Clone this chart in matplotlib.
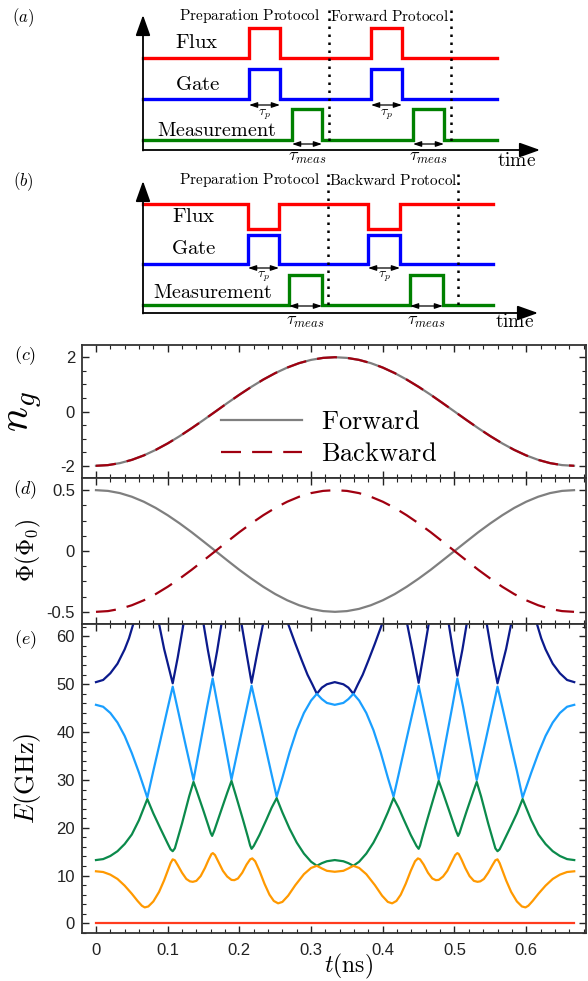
import matplotlib
matplotlib.use("Agg")
import matplotlib.pyplot as plt
from matplotlib.ticker import MultipleLocator

plt.rcParams['mathtext.fontset'] = 'cm'
plt.rcParams['font.family'] = ['Liberation Sans', 'DejaVu Sans']
plt.rcParams['axes.unicode_minus'] = False

# ---------------- schematic data (pixel units of the drawing) ----------------
# panel (a): forward protocol
a_flux = (58, 28)            # (baseline, pulse level)
a_gate = (99, 69)
a_meas = (140, 109)
a_gate_pulses = [(249, 280), (371, 402)]
a_meas_pulses = [(292, 322), (413, 444)]
a_span = (143, 497)
a_axis = (143, 150, 540, 15)   # origin x, origin y, x tip, y tip
a_dotted = [329, 451]

# panel (b): backward protocol
b_flux = (204, 229)
b_gate = (264, 235)
b_meas = (305, 275)
b_gate_pulses = [(248, 279), (368, 400)]
b_meas_pulses = [(289, 322), (410, 443)]
b_span = (143, 493)
b_axis = (143, 313, 538, 181)
b_dotted = [328, 458]

# ---------------- panels (c), (d) ----------------
t_drive = [0, 0.0167, 0.0333, 0.05, 0.0667, 0.0833, 0.1, 0.1167, 0.1333, 0.15,
           0.1667, 0.1833, 0.2, 0.2167, 0.2333, 0.25, 0.2667, 0.2833, 0.3, 0.3167,
           0.3333, 0.35, 0.3667, 0.3833, 0.4, 0.4167, 0.4333, 0.45, 0.4667, 0.4833,
           0.5, 0.5167, 0.5333, 0.55, 0.5667, 0.5833, 0.6, 0.6167, 0.6333, 0.65, 0.6667]
ng_forward = [-2.000, -1.975, -1.902, -1.782, -1.618, -1.414, -1.176, -0.908, -0.618, -0.313,
              0.000, 0.313, 0.618, 0.908, 1.176, 1.414, 1.618, 1.782, 1.902, 1.975,
              2.000, 1.975, 1.902, 1.782, 1.618, 1.414, 1.176, 0.908, 0.618, 0.313,
              0.000, -0.313, -0.618, -0.908, -1.176, -1.414, -1.618, -1.782, -1.902, -1.975,
              -2.000]
ng_backward = list(ng_forward)
phi_forward = [0.500, 0.494, 0.476, 0.446, 0.405, 0.354, 0.294, 0.227, 0.155, 0.078,
               0.000, -0.078, -0.155, -0.227, -0.294, -0.354, -0.405, -0.446, -0.476, -0.494,
               -0.500, -0.494, -0.476, -0.446, -0.405, -0.354, -0.294, -0.227, -0.155, -0.078,
               0.000, 0.078, 0.155, 0.227, 0.294, 0.354, 0.405, 0.446, 0.476, 0.494, 0.500]
phi_backward = [-0.500, -0.494, -0.476, -0.446, -0.405, -0.354, -0.294, -0.227, -0.155, -0.078,
                0.000, 0.078, 0.155, 0.227, 0.294, 0.354, 0.405, 0.446, 0.476, 0.494,
                0.500, 0.494, 0.476, 0.446, 0.405, 0.354, 0.294, 0.227, 0.155, 0.078,
                0.000, -0.078, -0.155, -0.227, -0.294, -0.354, -0.405, -0.446, -0.476, -0.494,
                -0.500]

# ---------------- panel (e): energy levels ----------------
t_e0 = [0, 0.667]
e0 = [0, 0]

t_e1 = [0.000, 0.010, 0.020, 0.030, 0.040, 0.050, 0.058, 0.064, 0.068, 0.073,
        0.080, 0.088, 0.095, 0.100, 0.104, 0.107, 0.110, 0.114, 0.120, 0.126,
        0.131, 0.135, 0.140, 0.146, 0.152, 0.157, 0.161, 0.163, 0.166, 0.171,
        0.177, 0.183, 0.189, 0.193, 0.198, 0.204, 0.210, 0.215, 0.218, 0.222,
        0.228, 0.235, 0.242, 0.248, 0.254, 0.260, 0.268, 0.278, 0.290, 0.300,
        0.308, 0.315, 0.322, 0.333, 0.345, 0.352, 0.359, 0.367, 0.377, 0.389,
        0.399, 0.407, 0.413, 0.419, 0.425, 0.432, 0.439, 0.445, 0.449, 0.452,
        0.457, 0.463, 0.469, 0.474, 0.478, 0.484, 0.490, 0.496, 0.501, 0.504,
        0.506, 0.510, 0.515, 0.521, 0.527, 0.532, 0.536, 0.541, 0.547, 0.553,
        0.557, 0.560, 0.563, 0.567, 0.572, 0.579, 0.587, 0.594, 0.599, 0.603,
        0.609, 0.617, 0.627, 0.637, 0.647, 0.657, 0.667]
e1 = [10.9, 10.75, 10.2, 9.3, 7.9, 6.2, 4.7, 3.7, 3.35, 3.55,
      4.6, 6.6, 9.0, 11.0, 12.6, 13.4, 13.2, 12.2, 10.6, 9.3,
      8.8, 8.7, 8.9, 9.9, 11.6, 13.3, 14.5, 14.7, 14.3, 12.8,
      11.0, 9.8, 9.1, 9.05, 9.4, 10.6, 12.3, 13.4, 13.6, 13.0,
      11.0, 8.3, 6.0, 4.7, 4.2, 4.5, 5.8, 8.0, 10.3, 11.6,
      12.05, 11.5, 11.0, 10.8, 11.0, 11.5, 12.05, 11.6, 10.3, 8.0,
      5.8, 4.5, 4.2, 4.7, 6.0, 8.3, 11.0, 13.0, 13.6, 13.4,
      12.3, 10.6, 9.4, 9.05, 9.1, 9.8, 11.0, 12.8, 14.3, 14.7,
      14.5, 13.3, 11.6, 9.9, 8.9, 8.7, 8.8, 9.3, 10.6, 12.2,
      13.2, 13.4, 12.6, 11.0, 9.0, 6.6, 4.6, 3.55, 3.35, 3.7,
      4.7, 6.2, 7.9, 9.3, 10.2, 10.75, 10.9]

t_e2 = [0.000, 0.010, 0.020, 0.030, 0.040, 0.050, 0.060, 0.0716, 0.080, 0.090,
        0.100, 0.104, 0.107, 0.110, 0.120, 0.130, 0.136, 0.140, 0.150, 0.157,
        0.160, 0.162, 0.165, 0.175, 0.183, 0.189, 0.195, 0.205, 0.212, 0.215,
        0.217, 0.220, 0.228, 0.238, 0.245, 0.252, 0.260, 0.270, 0.280, 0.290,
        0.300, 0.308, 0.315, 0.322, 0.333, 0.345, 0.352, 0.359, 0.367, 0.377,
        0.387, 0.397, 0.407, 0.415, 0.422, 0.429, 0.439, 0.447, 0.450, 0.452,
        0.455, 0.462, 0.472, 0.478, 0.484, 0.492, 0.502, 0.505, 0.507, 0.510,
        0.517, 0.527, 0.531, 0.537, 0.547, 0.557, 0.560, 0.563, 0.567, 0.577,
        0.587, 0.595, 0.607, 0.617, 0.627, 0.637, 0.647, 0.657, 0.667]
e2 = [13.25, 13.45, 14.1, 15.1, 16.6, 18.6, 21.6, 26.0, 23.0, 19.8,
      16.7, 15.5, 15.1, 15.7, 20.9, 26.6, 29.6, 27.9, 23.5, 20.3,
      18.9, 18.3, 19.4, 23.8, 27.3, 29.8, 26.8, 21.7, 18.0, 16.3,
      15.6, 16.2, 18.5, 21.8, 24.2, 26.2, 23.2, 19.8, 16.9, 14.6,
      12.9, 12.06, 12.6, 13.0, 13.25, 13.0, 12.6, 12.06, 12.9, 14.6,
      16.9, 19.8, 23.2, 26.2, 24.2, 21.8, 18.5, 16.2, 15.6, 16.3,
      18.0, 21.7, 26.8, 29.8, 27.3, 23.8, 19.4, 18.3, 18.9, 20.3,
      23.5, 27.9, 29.6, 26.6, 20.9, 15.7, 15.1, 15.5, 16.7, 19.8,
      23.0, 26.0, 21.6, 18.6, 16.6, 15.1, 14.1, 13.45, 13.25]

t_e3 = [0.000, 0.010, 0.020, 0.030, 0.040, 0.050, 0.060, 0.0716, 0.080, 0.090,
        0.100, 0.104, 0.107, 0.115, 0.125, 0.136, 0.145, 0.155, 0.1627, 0.170,
        0.180, 0.189, 0.200, 0.210, 0.217, 0.225, 0.235, 0.245, 0.252, 0.260,
        0.270, 0.280, 0.290, 0.300, 0.308, 0.315, 0.322, 0.333, 0.345, 0.352,
        0.359, 0.367, 0.377, 0.387, 0.397, 0.407, 0.415, 0.422, 0.432, 0.442,
        0.450, 0.457, 0.467, 0.478, 0.487, 0.497, 0.504, 0.512, 0.522, 0.531,
        0.542, 0.552, 0.560, 0.563, 0.567, 0.577, 0.587, 0.595, 0.607, 0.617,
        0.627, 0.637, 0.647, 0.657, 0.667]
e3 = [45.7, 45.3, 44.0, 42.0, 39.2, 35.6, 31.5, 26.3, 31.9, 38.4,
      45.0, 47.6, 49.5, 44.1, 37.3, 30.0, 37.2, 45.3, 51.2, 45.4,
      37.4, 30.1, 37.8, 44.8, 49.7, 44.4, 37.8, 31.1, 26.5, 30.5,
      35.8, 40.4, 44.0, 46.6, 48.0, 46.9, 46.1, 45.7, 46.1, 46.9,
      48.0, 46.6, 44.0, 40.4, 35.8, 30.5, 26.5, 31.1, 37.8, 44.4,
      49.7, 44.8, 37.8, 30.1, 37.4, 45.4, 51.2, 45.3, 37.2, 30.0,
      37.3, 44.1, 49.5, 47.6, 45.0, 38.4, 31.9, 26.3, 31.5, 35.6,
      39.2, 42.0, 44.0, 45.3, 45.7]

t_e4 = [0.000, 0.010, 0.020, 0.030, 0.040, 0.046, 0.052, 0.060, 0.075, 0.082,
        0.088, 0.095, 0.101, 0.107, 0.114, 0.122, 0.130, 0.140, 0.150, 0.156,
        0.1627, 0.169, 0.175, 0.185, 0.195, 0.203, 0.210, 0.217, 0.225, 0.233,
        0.250, 0.268, 0.278, 0.287, 0.295, 0.302, 0.308, 0.315, 0.322, 0.333,
        0.345, 0.352, 0.359, 0.365, 0.372, 0.380, 0.389, 0.399, 0.417, 0.434,
        0.442, 0.450, 0.457, 0.464, 0.472, 0.482, 0.492, 0.498, 0.504, 0.511,
        0.517, 0.527, 0.537, 0.545, 0.553, 0.560, 0.566, 0.572, 0.579, 0.585,
        0.592, 0.607, 0.615, 0.621, 0.627, 0.637, 0.647, 0.657, 0.667]
e4 = [50.45, 50.9, 52.3, 54.3, 57.3, 59.6, 62.6, 66.5, 72.0, 67.0,
      62.6, 57.4, 53.8, 50.2, 55.6, 62.6, 70.0, 70.0, 62.6, 57.2,
      51.8, 57.0, 62.6, 70.0, 69.0, 62.6, 56.4, 50.3, 56.6, 62.6,
      73.0, 62.6, 58.5, 55.0, 52.0, 49.9, 48.0, 49.3, 50.0, 50.45,
      50.0, 49.3, 48.0, 49.9, 52.0, 55.0, 58.5, 62.6, 73.0, 62.6,
      56.6, 50.3, 56.4, 62.6, 69.0, 70.0, 62.6, 57.0, 51.8, 57.2,
      62.6, 70.0, 70.0, 62.6, 55.6, 50.2, 53.8, 57.4, 62.6, 67.0,
      72.0, 66.5, 62.6, 59.6, 57.3, 54.3, 52.3, 50.9, 50.45]

W, H = 588, 981
fig = plt.figure(figsize=(W / 100, H / 100), dpi=100)


def step_trace(span, levels, pulses):
    base, high = levels
    xs, ys = [span[0]], [base]
    for x0, x1 in pulses:
        xs += [x0, x0, x1, x1]
        ys += [base, high, high, base]
    xs.append(span[1])
    ys.append(base)
    return xs, ys


def double_arrow(ax, x0, x1, y):
    ax.annotate('', xy=(x1, y), xytext=(x0, y),
                arrowprops=dict(arrowstyle='<|-|>,head_length=0.6,head_width=0.2',
                                color='k', lw=0.9, mutation_scale=8,
                                shrinkA=0, shrinkB=0))


def axis_arrows(ax, spec):
    ox, oy, xtip, ytip = spec
    style = dict(arrowstyle='-|>,head_length=0.7,head_width=0.25', color='k',
                 lw=1.3, mutation_scale=18, shrinkA=0, shrinkB=0)
    ax.annotate('', xy=(xtip, oy), xytext=(ox, oy), arrowprops=style)
    ax.annotate('', xy=(ox, ytip), xytext=(ox, oy + 0.5), arrowprops=style)


# schematic axes in pixel coordinates
sch = fig.add_axes([0, 1 - 335 / H, 1, 335 / H])
sch.set_xlim(0, W)
sch.set_ylim(335, 0)
sch.axis('off')

sig_lw = 2.4
for (span, flux, gate, meas, gp, mp, axspec, dots, ytop, proto, tag, labels,
     gate_arrow_y, meas_arrow_y, taup_y, taum_y, time_y) in [
        (a_span, a_flux, a_gate, a_meas, a_gate_pulses, a_meas_pulses, a_axis, a_dotted,
         10, r'$\mathrm{Forward\ Protocol}$', '(a)',
         [(197, 42), (198, 85), (216, 130)], 105, 144, 115, 158, 161),
        (b_span, b_flux, b_gate, b_meas, b_gate_pulses, b_meas_pulses, b_axis, b_dotted,
         174, r'$\mathrm{Backward\ Protocol}$', '(b)',
         [(194, 217), (194, 248), (212, 292)], 268, 306, 277, 322, 322)]:
    xs, ys = step_trace(span, flux, gp)
    sch.plot(xs, ys, color='#ff0000', lw=sig_lw, solid_joinstyle='miter')
    xs, ys = step_trace(span, gate, gp)
    sch.plot(xs, ys, color='#0000ff', lw=sig_lw, solid_joinstyle='miter')
    xs, ys = step_trace(span, meas, mp)
    sch.plot(xs, ys, color='#008000', lw=sig_lw, solid_joinstyle='miter')
    axis_arrows(sch, axspec)
    for xd in dots:
        sch.plot([xd, xd], [ytop, axspec[1] - 4], color='k', lw=1.8, ls=(0, (1, 2.2)))
    sch.text(250, ytop + 6, r'$\mathrm{Preparation\ Protocol}$', ha='center', va='center',
             fontsize=11)
    sch.text((dots[0] + dots[1]) / 2, ytop + 6, proto, ha='center', va='center',
             fontsize=11)
    sch.text(23, ytop + 8, r'$(%s)$' % tag[1], ha='center', va='center', fontsize=12)
    for (lx, ly), word, fs in zip(labels, ['Flux', 'Gate', 'Measurement'], [15, 15, 14.5]):
        sch.text(lx, ly, r'$\mathrm{%s}$' % word, ha='center', va='center', fontsize=fs)
    for x0, x1 in gp:
        double_arrow(sch, x0, x1, gate_arrow_y)
        sch.text((x0 + x1) / 2, taup_y, r'$\tau_p$', ha='center', va='center', fontsize=10)
    for x0, x1 in mp:
        double_arrow(sch, x0, x1, meas_arrow_y)
        sch.text((x0 + x1) / 2, taum_y, r'$\tau_{meas}$', ha='center', va='center',
                 fontsize=13)
    sch.text(axspec[2] - 23, time_y, r'$\mathrm{time}$', ha='center', va='center',
             fontsize=14)

# data panels
left, width = 82 / W, 504 / W
ax_c = fig.add_axes([left, 1 - 478 / H, width, 133 / H])
ax_d = fig.add_axes([left, 1 - 624 / H, width, 146 / H])
ax_e = fig.add_axes([left, 1 - 933 / H, width, 309 / H])

gray = '#7f7f7f'
dred = '#a00010'
ax_c.plot(t_drive, ng_forward, color=gray, lw=1.6, label=r'$\mathrm{Forward}$')
ax_c.plot(t_drive, ng_backward, color=dred, lw=1.6, dashes=(9, 5),
          label=r'$\mathrm{Backward}$')
ax_c.set_ylim(-2.45, 2.45)
ax_c.yaxis.set_major_locator(MultipleLocator(2))
ax_c.yaxis.set_minor_locator(MultipleLocator(0.5))
ax_c.set_ylabel(r'$n_g$', fontsize=30)
ax_c.yaxis.set_label_coords(-0.075, 0.5)
ax_c.legend(loc='center left', bbox_to_anchor=(0.275, 0.30), frameon=False,
            fontsize=19, handlelength=3.1, handletextpad=0.7, labelspacing=0.3,
            borderpad=0, borderaxespad=0)

ax_d.plot(t_drive, phi_forward, color=gray, lw=1.6)
ax_d.plot(t_drive, phi_backward, color=dred, lw=1.6, dashes=(9, 5))
ax_d.set_ylim(-0.6, 0.6)
ax_d.set_yticks([-0.5, 0, 0.5])
ax_d.set_yticklabels(['-0.5', '0', '0.5'])
ax_d.yaxis.set_minor_locator(MultipleLocator(0.125))
ax_d.set_ylabel(r'$\Phi(\Phi_0)$', fontsize=17)
ax_d.yaxis.set_label_coords(-0.078, 0.5)

level_colors = ['#ff3c1e', '#ff9900', '#0b8a4b', '#1a9fff', '#0b1a8c']
ax_e.plot(t_e4, e4, color=level_colors[4], lw=1.6)
ax_e.plot(t_e3, e3, color=level_colors[3], lw=1.6)
ax_e.plot(t_e2, e2, color=level_colors[2], lw=1.6)
ax_e.plot(t_e1, e1, color=level_colors[1], lw=1.6)
ax_e.plot(t_e0, e0, color=level_colors[0], lw=1.6)
ax_e.set_ylim(-2.0, 62.6)
ax_e.yaxis.set_major_locator(MultipleLocator(10))
ax_e.yaxis.set_minor_locator(MultipleLocator(2))
ax_e.set_ylabel(r'$E(\mathrm{GHz})$', fontsize=19)
ax_e.yaxis.set_label_coords(-0.078, 0.5)
ax_e.set_xlabel(r'$t(\mathrm{ns})$', fontsize=17)
ax_e.xaxis.set_label_coords(0.528, -0.062)

for ax, tag, ytag in [(ax_c, 'c', 356), (ax_d, 'd', 490), (ax_e, 'e', 640)]:
    ax.set_xlim(-0.0195, 0.6834)
    ax.xaxis.set_major_locator(MultipleLocator(0.1))
    ax.xaxis.set_minor_locator(MultipleLocator(0.02))
    ax.tick_params(which='both', direction='in', top=True, right=True,
                   labelsize=12, colors='#222222')
    ax.tick_params(which='major', length=5, width=1.0, pad=5)
    ax.tick_params(which='minor', length=3, width=0.8)
    for sp in ax.spines.values():
        sp.set_linewidth(1.3)
        sp.set_color('#333333')
    if ax is not ax_e:
        ax.tick_params(labelbottom=False)
    fig.text(25 / W, 1 - ytag / H, r'$(%s)$' % tag, ha='center', va='center', fontsize=13)

ax_e.set_xticks([0, 0.1, 0.2, 0.3, 0.4, 0.5, 0.6])
ax_e.set_xticklabels(['0', '0.1', '0.2', '0.3', '0.4', '0.5', '0.6'])
ax_e.tick_params(axis='x', pad=7)

fig.savefig('out.png', dpi=100)
